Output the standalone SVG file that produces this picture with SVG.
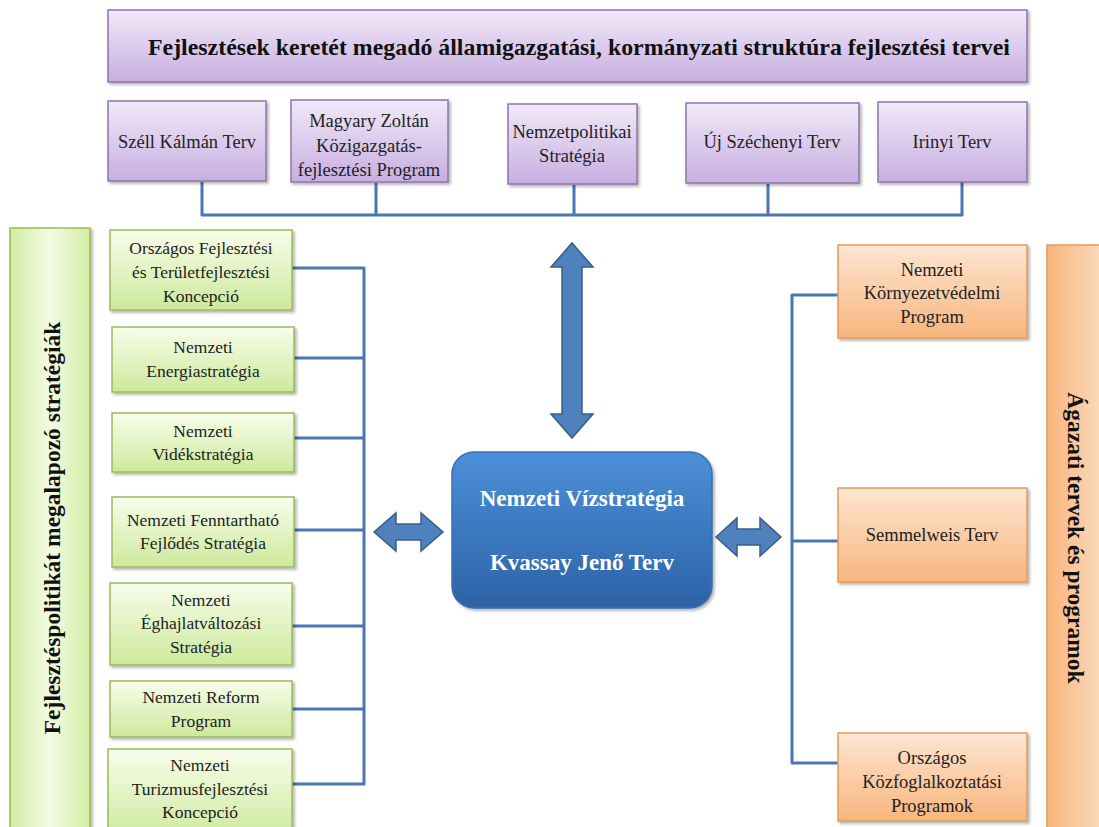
<svg xmlns="http://www.w3.org/2000/svg" width="1099" height="827" viewBox="0 0 1099 827">
<defs>
<linearGradient id="gPurple" x1="0" y1="0" x2="0" y2="1"><stop offset="0" stop-color="#f1e9f8"/><stop offset="1" stop-color="#c7aee0"/></linearGradient>
<linearGradient id="gGreen" x1="0" y1="0" x2="0" y2="1"><stop offset="0" stop-color="#f8fdeb"/><stop offset="1" stop-color="#cde99c"/></linearGradient>
<linearGradient id="gGreenV" x1="0" y1="0" x2="1" y2="0"><stop offset="0" stop-color="#d2eca4"/><stop offset="0.5" stop-color="#f3fbe2"/><stop offset="1" stop-color="#d2eca4"/></linearGradient>
<linearGradient id="gOrange" x1="0" y1="0" x2="0" y2="1"><stop offset="0" stop-color="#fde6d2"/><stop offset="1" stop-color="#f8b57d"/></linearGradient>
<linearGradient id="gOrangeV" x1="0" y1="0" x2="1" y2="0"><stop offset="0" stop-color="#f8b47c"/><stop offset="1" stop-color="#fde4ce"/></linearGradient>
<linearGradient id="gBlue" x1="0" y1="0" x2="0" y2="1"><stop offset="0" stop-color="#4b90d8"/><stop offset="1" stop-color="#2d62a6"/></linearGradient>
<filter id="sh" x="-10%" y="-10%" width="130%" height="130%"><feDropShadow dx="2" dy="2" stdDeviation="1.5" flood-color="#000" flood-opacity="0.3"/></filter>
</defs>
<style>
.p{fill:url(#gPurple);stroke:#8f74aa;stroke-width:1.5;filter:url(#sh)}
.g{fill:url(#gGreen);stroke:#9bbb59;stroke-width:1.5;filter:url(#sh)}
.o{fill:url(#gOrange);stroke:#e59a5c;stroke-width:1.5;filter:url(#sh)}
.t{font-family:"Liberation Serif","Times New Roman",serif;font-size:17.5px;fill:#222;text-anchor:middle;dominant-baseline:central}
.tl{font-size:18.5px}
.b{font-family:"Liberation Serif","Times New Roman",serif;font-weight:bold;fill:#111;text-anchor:middle;dominant-baseline:central}
.w{font-family:"Liberation Serif","Times New Roman",serif;font-weight:bold;font-size:23px;fill:#fff;text-anchor:middle;dominant-baseline:central}
.c{fill:none;stroke:#4a76b5;stroke-width:3;stroke-linejoin:round}
.a{fill:#4f81bd;stroke:#385d8a;stroke-width:1.5}
</style>
<rect width="1099" height="827" fill="#fff"/>

<g id="connectors">
<path class="c" d="M202,182 V215 H962 V182 M376,183 V215 M574,185 V215 M768,184 V215"/>
<path class="c" d="M292,268 H364 V784 H292 M294,358 H364 M294,438 H364 M294,530 H364 M292,626 H364 M292,709 H364"/>
<path class="c" d="M838,295 H792 V763 H838 M792,541 H838"/>
<polygon class="a" points="572,243 593,267 582,267 582,414 593,414 572,438 551,414 562,414 562,267 551,267"/>
<polygon class="a" points="374,532 396,513 396,524 421,524 421,513 443,532 421,551 421,540 396,540 396,551"/>
<polygon class="a" points="716,537 737,518 737,529 760,529 760,518 781,537 760,556 760,545 737,545 737,556"/>
</g>

<g id="top-title"><rect class="p" x="108" y="10" width="919" height="72"/><text class="b" x="579" y="47" font-size="23" textLength="862" lengthAdjust="spacingAndGlyphs">Fejlesztések keretét megadó államigazgatási, kormányzati struktúra fejlesztési tervei</text></g>
<g id="szell"><rect class="p" x="108" y="101" width="158" height="80"/><text class="t tl" x="187" y="142">Széll Kálmán Terv</text></g>
<g id="magyary"><rect class="p" x="291" y="100" width="157" height="82"/><text class="t tl" x="369" y="121">Magyary Zoltán</text><text class="t tl" x="369" y="146">Közigazgatás-</text><text class="t tl" x="369" y="170">fejlesztési Program</text></g>
<g id="nemzetpolitikai"><rect class="p" x="508" y="104" width="129" height="80"/><text class="t tl" x="572" y="132">Nemzetpolitikai</text><text class="t tl" x="572" y="156">Stratégia</text></g>
<g id="ujszechenyi"><rect class="p" x="686" y="103" width="173" height="80"/><text class="t tl" x="772" y="142">Új Széchenyi Terv</text></g>
<g id="irinyi"><rect class="p" x="878" y="102" width="149" height="80"/><text class="t tl" x="952" y="142">Irinyi Terv</text></g>

<g id="left-label"><rect x="10" y="228" width="80" height="610" fill="url(#gGreenV)" stroke="#9bbb59" stroke-width="1.5" filter="url(#sh)"/><text class="b" font-size="23.5" transform="translate(52,528) rotate(-90)">Fejlesztéspolitikát megalapozó stratégiák</text></g>
<g id="g1"><rect class="g" x="110" y="230" width="182" height="80"/><text class="t" x="201" y="248">Országos Fejlesztési</text><text class="t" x="201" y="272">és Területfejlesztési</text><text class="t" x="201" y="296">Koncepció</text></g>
<g id="g2"><rect class="g" x="112" y="327" width="182" height="65"/><text class="t" x="203" y="347">Nemzeti</text><text class="t" x="203" y="371">Energiastratégia</text></g>
<g id="g3"><rect class="g" x="112" y="413" width="182" height="59"/><text class="t" x="203" y="431">Nemzeti</text><text class="t" x="203" y="454">Vidékstratégia</text></g>
<g id="g4"><rect class="g" x="112" y="497" width="182" height="70"/><text class="t" x="203" y="520">Nemzeti Fenntartható</text><text class="t" x="203" y="543">Fejlődés Stratégia</text></g>
<g id="g5"><rect class="g" x="110" y="583" width="182" height="82"/><text class="t" x="201" y="600">Nemzeti</text><text class="t" x="201" y="623">Éghajlatváltozási</text><text class="t" x="201" y="647">Stratégia</text></g>
<g id="g6"><rect class="g" x="110" y="681" width="182" height="56"/><text class="t" x="201" y="697">Nemzeti Reform</text><text class="t" x="201" y="721">Program</text></g>
<g id="g7"><rect class="g" x="108" y="749" width="184" height="90"/><text class="t" x="200" y="765">Nemzeti</text><text class="t" x="200" y="789">Turizmusfejlesztési</text><text class="t" x="200" y="812">Koncepció</text></g>

<g id="center"><rect x="452" y="452" width="260" height="156" rx="22" fill="url(#gBlue)" stroke="#3a6fb0" stroke-width="1.5" filter="url(#sh)"/><text class="w" x="582" y="498">Nemzeti Vízstratégia</text><text class="w" x="582" y="562">Kvassay Jenő Terv</text></g>

<g id="o1"><rect class="o" x="838" y="245" width="189" height="93"/><text class="t tl" x="932" y="270">Nemzeti</text><text class="t tl" x="932" y="293">Környezetvédelmi</text><text class="t tl" x="932" y="317">Program</text></g>
<g id="o2"><rect class="o" x="838" y="488" width="189" height="94"/><text class="t tl" x="932" y="535">Semmelweis Terv</text></g>
<g id="o3"><rect class="o" x="838" y="733" width="189" height="88"/><text class="t tl" x="932" y="758">Országos</text><text class="t tl" x="932" y="782">Közfoglalkoztatási</text><text class="t tl" x="932" y="806">Programok</text></g>
<g id="right-label"><rect x="1047" y="245" width="70" height="600" fill="url(#gOrangeV)" stroke="#e59a5c" stroke-width="1.5"/><text class="b" font-size="23.5" transform="translate(1076,538) rotate(90)">Ágazati tervek és programok</text></g>
</svg>
